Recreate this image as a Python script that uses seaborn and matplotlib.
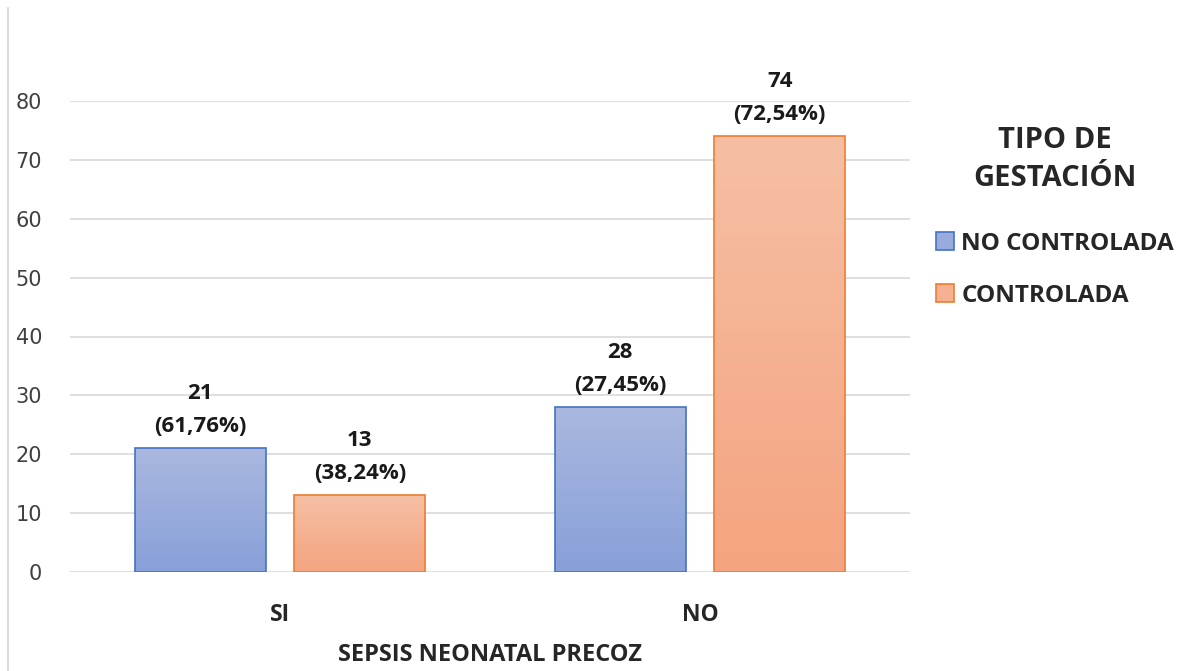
import matplotlib
matplotlib.use("Agg")
import numpy as np
import pandas as pd
import matplotlib.pyplot as plt
import seaborn as sns
from matplotlib.colors import LinearSegmentedColormap
from matplotlib.patches import Patch
from matplotlib.lines import Line2D

# datos
categorias = ["SI", "NO"]
grupos = ["NO CONTROLADA", "CONTROLADA"]
no_controlada = [21, 28]
controlada = [13, 74]
pct_no_controlada = ["61,76%", "27,45%"]
pct_controlada = ["38,24%", "72,54%"]

df = pd.DataFrame({
    "sepsis": categorias + categorias,
    "tipo": [grupos[0]] * 2 + [grupos[1]] * 2,
    "n": no_controlada + controlada,
    "pct": pct_no_controlada + pct_controlada,
})

sns.set_style("white")
plt.rcParams['font.family'] = ['Open Sans', 'DejaVu Sans']

colores = ["#98ABDC", "#F5B192"]
bordes = ["#4472C4", "#ED7D31"]
grad = [("#AAB8E0", "#88A0D8"), ("#F6BFA4", "#F4A480")]

fig = plt.figure(figsize=(11.79, 6.71), dpi=100)
ax = fig.add_axes([70/1179, 1-572/671, 840/1179, 471/671])

sns.barplot(data=df, x="sepsis", y="n", hue="tipo", order=categorias,
            hue_order=grupos, palette=colores, width=0.76, gap=0.18,
            ax=ax, legend=False, saturation=1)

# relleno degradado como en excel
for i, cont in enumerate(ax.containers):
    cmap = LinearSegmentedColormap.from_list("g%d" % i, [grad[i][1], grad[i][0]])
    for bar in cont:
        x0, y0 = bar.get_x(), bar.get_y()
        w, h = bar.get_width(), bar.get_height()
        img = ax.imshow(np.linspace(0, 1, 100).reshape(-1, 1), cmap=cmap,
                        extent=[x0, x0 + w, y0, y0 + h], origin="lower",
                        aspect="auto", zorder=1.5)
        img.set_clip_path(bar)
        bar.set_facecolor("none")
        bar.set_edgecolor(bordes[i])
        bar.set_linewidth(1.2)
        bar.set_zorder(2)

# etiquetas de valores
for i, cont in enumerate(ax.containers):
    sub = df[df["tipo"] == grupos[i]].set_index("sepsis").loc[categorias]
    for bar, (n, p) in zip(cont, zip(sub["n"], sub["pct"])):
        ax.annotate(f"{n}\n({p})", (bar.get_x() + bar.get_width()/2, n),
                    xytext=(0, 8), textcoords="offset points", ha="center",
                    va="bottom", fontsize=16, fontweight="bold",
                    linespacing=1.75, color="#1a1a1a", annotation_clip=False)

ax.set_xlim(-0.5, 1.5)
ax.set_ylim(0, 80)
ax.set_yticks(range(0, 81, 10))
ax.set_axisbelow(True)
ax.yaxis.grid(True, color="#d9d9d9", lw=1.2)
sns.despine(ax=ax, left=True, bottom=True)
ax.tick_params(axis="y", length=0, pad=20, labelsize=15, labelcolor="#404040")
ax.tick_params(axis="x", length=0, pad=22, labelsize=16.5)
for t in ax.get_yticklabels():
    t.set_fontfamily("DejaVu Sans")
for t in ax.get_xticklabels():
    t.set_fontweight("bold")
ax.set_ylabel("")
ax.set_xlabel("SEPSIS NEONATAL PRECOZ", fontsize=17, fontweight="bold", labelpad=12)

handles = [Patch(facecolor=colores[i], edgecolor=bordes[i], lw=1.2) for i in range(2)]
leg = fig.legend(handles, grupos, title="TIPO DE\nGESTACIÓN", loc="upper left",
                 bbox_to_anchor=(914/1179, 1-104/671), frameon=False,
                 handlelength=0.75, handleheight=0.75, handletextpad=0.3,
                 labelspacing=1.15,
                 prop={"weight": "bold", "size": 17.5},
                 title_fontproperties={"weight": "bold", "size": 21})
leg.get_title().set_multialignment("center")
leg.get_title().set_linespacing(1.4)
leg._legend_box.sep = 28

# borde izquierdo del cuadro
fig.add_artist(Line2D([8/1179, 8/1179], [0, 1-8/671], transform=fig.transFigure,
                      color="#d9d9d9", lw=1.5))

fig.savefig("out.png", dpi=100)
